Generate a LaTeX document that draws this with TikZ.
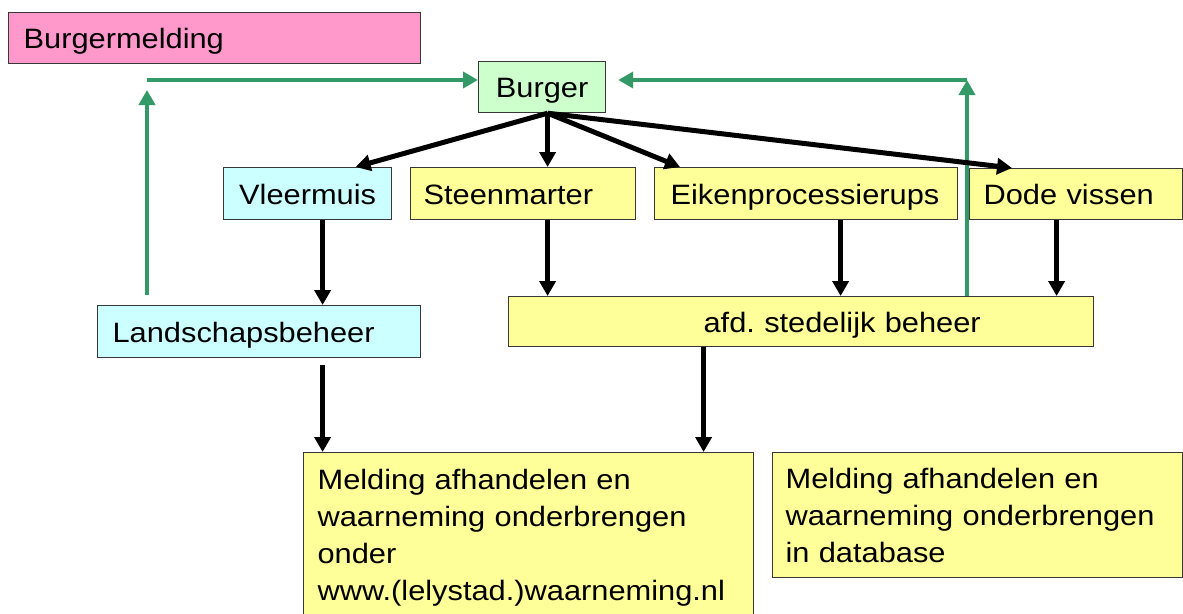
\documentclass[tikz,border=0pt]{standalone}
\usepackage{fontspec}
\setmainfont[FakeStretch=1.1]{Liberation Sans}
\frenchspacing
\usetikzlibrary{arrows.meta}
\definecolor{pinkfill}{HTML}{FF99CC}
\definecolor{greenfill}{HTML}{CCFFCC}
\definecolor{cyanfill}{HTML}{CCFFFF}
\definecolor{yellowfill}{HTML}{FFFF99}
\definecolor{seagreen}{HTML}{339966}
\definecolor{boxline}{HTML}{383838}
\tikzset{
  box/.style={draw=boxline, line width=1.2pt, rectangle, anchor=north west,
    inner ysep=0pt, font=\fontsize{28}{37}\selectfont, align=left},
  onebox/.style={box, text height=21pt, text depth=0pt},
  cbox/.style={onebox, align=center},
  garrow/.style={draw=seagreen, line width=4.5pt, -{Triangle[width=16pt,length=15pt]}},
  barrow/.style={draw=black, line width=5pt, -{Triangle[width=16pt,length=15pt]}}
}
\begin{document}
\begin{tikzpicture}[x=1pt,y=-1pt]
\useasboundingbox (0,0) rectangle (1183,613);
\clip (0,0) rectangle (1183,613);

% boxes
\node[onebox, fill=pinkfill, minimum width=412, minimum height=51, inner xsep=15pt, text width=382pt] (melding) at (8,12) {Burgermelding};
\node[cbox, fill=greenfill, minimum width=127, minimum height=51, inner xsep=10pt, text width=107pt] (burger) at (478,61) {Burger};
\node[cbox, fill=cyanfill, minimum width=168, minimum height=52, inner xsep=10pt, text width=148pt] (vleer) at (223,167) {Vleermuis};
\node[onebox, fill=yellowfill, minimum width=225, minimum height=52, inner xsep=13pt, text width=199pt] (steen) at (410,167) {Steenmarter};
\node[onebox, fill=yellowfill, minimum width=303, minimum height=52, inner xsep=16pt, text width=271pt] (eiken) at (654,167) {Eikenprocessierups};
\node[onebox, fill=yellowfill, minimum width=213, minimum height=51, inner xsep=14pt, text width=185pt] (dode) at (969,168) {Dode vissen};
\node[onebox, fill=cyanfill, minimum width=323, minimum height=52, inner xsep=15pt, text width=293pt] (land) at (97,305) {Landschapsbeheer};
\node[onebox, fill=yellowfill, minimum width=585, minimum height=50, inner xsep=10pt, text width=565pt] (afd) at (508,296) {\hspace*{185pt}afd. stedelijk beheer};
\node[box, fill=yellowfill, minimum width=450, minimum height=170, inner xsep=14pt, text width=422pt] (mel1) at (303,452)
  {Melding afhandelen en\\waarneming onderbrengen\\onder\\www.(lelystad.)waarneming.nl};
\node[box, fill=yellowfill, minimum width=410, minimum height=125, inner xsep=13pt, text width=384pt] (mel2) at (772,452)
  {Melding afhandelen en\\waarneming onderbrengen\\in database};

% corner points of the feedback lines
\coordinate (gl) at (147,90);
\coordinate (gh) at (147,80);
\coordinate (gr) at (967,80);
\coordinate (bo) at ([xshift=5.5pt]burger.south);
\coordinate (vl) at ([xshift=15pt]vleer.south);

% feedback to the citizen
\draw[garrow] ([yshift=10pt]land.north -| gl) -- (gl);
\draw[garrow] (gh) -- (burger.west |- gh);
\draw[garrow] (afd.north -| gr) -- (gr);
\draw[garrow] (gr) -- ([xshift=12pt]burger.east |- gr);

% reports from the citizen
\draw[barrow] (bo) -- ([xshift=48pt]vleer.north);
\draw[barrow] (bo) -- (bo |- steen.north);
\draw[barrow] (bo) -- ([xshift=26pt]eiken.north west);
\draw[barrow] (bo) -- ([xshift=43pt]dode.north west);

% routing to departments
\draw[barrow] (vl) -- (vl |- land.north);
\draw[barrow] (bo |- steen.south) -- (bo |- afd.north);
\draw[barrow] ([xshift=34.5pt]eiken.south) -- ([xshift=34.5pt]eiken.south |- afd.north);
\draw[barrow] ([xshift=-19.5pt]dode.south) -- ([xshift=-19.5pt]dode.south |- afd.north);

% handling
\draw[barrow] ([yshift=-7pt]land.south -| vl) -- (vl |- mel1.north);
\draw[barrow] ([xshift=-97.5pt]afd.south) -- ([xshift=-97.5pt]afd.south |- mel1.north);
\end{tikzpicture}
\end{document}
